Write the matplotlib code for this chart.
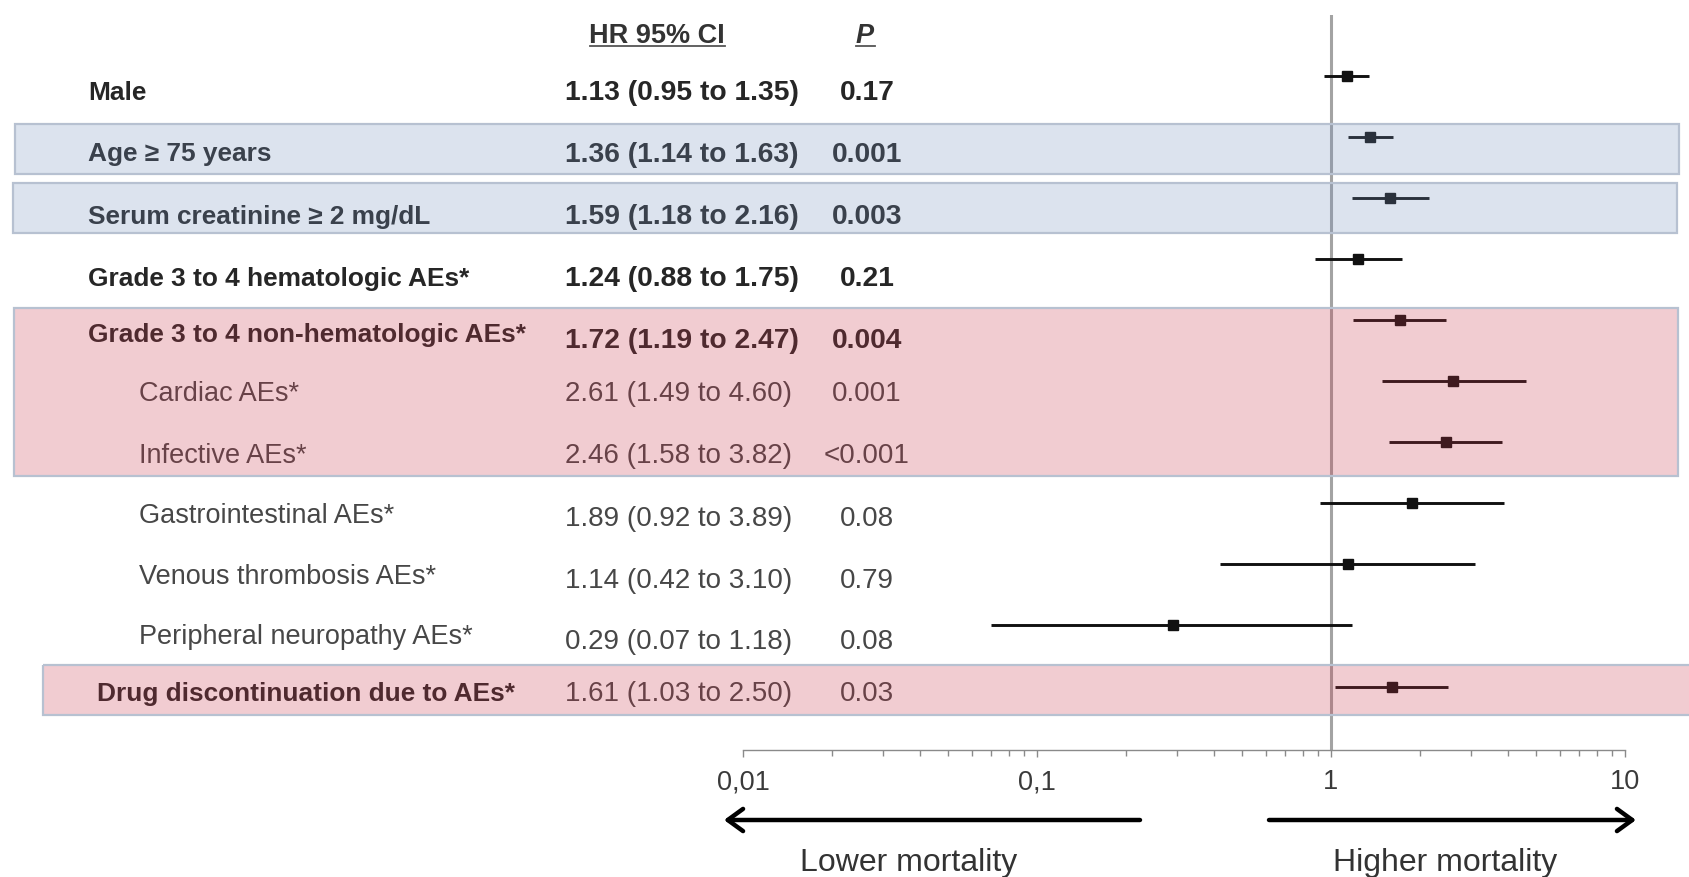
import matplotlib
matplotlib.use("Agg")
import matplotlib.pyplot as plt
from matplotlib.patches import Rectangle
from matplotlib.ticker import FixedLocator, FixedFormatter, LogLocator, NullFormatter

plt.rcParams['font.family'] = ['Liberation Sans', 'DejaVu Sans']

# ---- data ----
labels = ["Male", "Age \u2265 75 years", "Serum creatinine \u2265 2 mg/dL",
          "Grade 3 to 4 hematologic AEs*", "Grade 3 to 4 non-hematologic AEs*",
          "Cardiac AEs*", "Infective AEs*", "Gastrointestinal AEs*",
          "Venous thrombosis AEs*", "Peripheral neuropathy AEs*",
          "Drug discontinuation due to AEs*"]
hr = [1.13, 1.36, 1.59, 1.24, 1.72, 2.61, 2.46, 1.89, 1.14, 0.29, 1.61]
ci_low = [0.95, 1.14, 1.18, 0.88, 1.19, 1.49, 1.58, 0.92, 0.42, 0.07, 1.03]
ci_high = [1.35, 1.63, 2.16, 1.75, 2.47, 4.60, 3.82, 3.89, 3.10, 1.18, 2.50]
p_values = ["0.17", "0.001", "0.003", "0.21", "0.004", "0.001", "<0.001",
            "0.08", "0.79", "0.08", "0.03"]
tick_values = [0.01, 0.1, 1, 10]
tick_labels = ["0,01", "0,1", "1", "10"]

# ---- layout (pixels, top-left origin) ----
W, H = 1690, 878
label_bold = [True, True, True, True, True, False, False, False, False, False, True]
value_bold = [True, True, True, True, True, False, False, False, False, False, False]
label_x = [88, 88, 88, 88, 88, 139, 139, 139, 139, 139, 97]
label_y = [93, 154.5, 217, 279.5, 335.5, 394.5, 456.5, 516.5, 577, 637.5, 694.5]
value_y = [93, 154.5, 217, 279.5, 341.5, 394.5, 456.5, 519.5, 581.5, 642.5, 694.5]
hr_x = 565
p_x = 867
row0_px, row_step_px = 76.5, 61.1
ax_left_px, ax_right_px = 743, 1625
ax_top_px, ax_bottom_px = 16, 751

FS_LABEL_BOLD = 18.9
FS_LABEL = 19.5
FS_VALUE_BOLD = 20.3
FS_VALUE = 20.0
bold_col = '#262626'
norm_col = '#474747'

fig = plt.figure(figsize=(W / 100, H / 100), dpi=100)

# background layer for the table text
bg = fig.add_axes([0, 0, 1, 1], zorder=0)
bg.set_xlim(0, W)
bg.set_ylim(H, 0)
bg.axis('off')

# column headers with underlines
bg.text(657, 36, "HR 95% CI", ha='center', va='center', fontsize=19.5,
        fontweight='bold', color='#333333')
bg.plot([590, 725], [47, 47], color='#555555', lw=1.3)
bg.text(865, 36, "P", ha='center', va='center', fontsize=19.5,
        fontweight='bold', fontstyle='italic', color='#333333')
bg.plot([856, 875], [47, 47], color='#555555', lw=1.3)

for i, lab in enumerate(labels):
    if label_bold[i]:
        bg.text(label_x[i], label_y[i], lab, ha='left', va='center',
                fontsize=FS_LABEL_BOLD, fontweight='bold', color=bold_col)
    else:
        bg.text(label_x[i], label_y[i], lab, ha='left', va='center',
                fontsize=FS_LABEL, color=norm_col)
    if value_bold[i]:
        vkw = dict(fontsize=FS_VALUE_BOLD, fontweight='bold', color=bold_col)
    else:
        vkw = dict(fontsize=FS_VALUE, fontweight='normal', color=norm_col)
    bg.text(hr_x, value_y[i], f"{hr[i]:.2f} ({ci_low[i]:.2f} to {ci_high[i]:.2f})",
            ha='left', va='center', **vkw)
    bg.text(p_x, value_y[i], p_values[i], ha='center', va='center', **vkw)

# forest plot axes
ax = fig.add_axes([ax_left_px / W, (H - ax_bottom_px) / H,
                   (ax_right_px - ax_left_px) / W, (ax_bottom_px - ax_top_px) / H],
                  zorder=1)
ax.patch.set_alpha(0)
ax.set_xscale('log')
ax.set_xlim(0.01, 10)
y_top = (ax_top_px - row0_px) / row_step_px
y_bot = (ax_bottom_px - row0_px) / row_step_px
ax.set_ylim(y_bot, y_top)

rows = list(range(len(labels)))
ax.axvline(1, color='#a3a3a3', lw=2.2, zorder=1)
ax.hlines(rows, ci_low, ci_high, color='#111111', lw=2.1, zorder=2)
ax.plot(hr, rows, 's', color='#111111', ms=7.8, zorder=3)

for s in ['left', 'right', 'top']:
    ax.spines[s].set_visible(False)
ax.spines['bottom'].set_color('#8a8a8a')
ax.spines['bottom'].set_linewidth(1.0)
ax.yaxis.set_visible(False)
ax.xaxis.set_major_locator(FixedLocator(tick_values))
ax.xaxis.set_major_formatter(FixedFormatter(tick_labels))
ax.xaxis.set_minor_locator(LogLocator(base=10, subs=range(2, 10)))
ax.xaxis.set_minor_formatter(NullFormatter())
ax.tick_params(axis='x', which='major', length=5, width=1, color='#8a8a8a',
               labelsize=19.5, labelcolor='#3a3a3a', pad=8)
ax.tick_params(axis='x', which='minor', length=4, width=1, color='#8a8a8a')

# overlay layer: tinted highlight boxes and direction arrows
ov = fig.add_axes([0, 0, 1, 1], zorder=2)
ov.patch.set_alpha(0)
ov.set_xlim(0, W)
ov.set_ylim(H, 0)
ov.axis('off')

blue = (119 / 255, 147 / 255, 191 / 255)
pink = (203 / 255, 55 / 255, 75 / 255)
edge = '#b7c1d1'
boxes = [
    (15, 125, 1664, 50, blue),
    (13, 184, 1664, 50, blue),
    (14, 309, 1664, 168, pink),
    (43, 666, 1660, 50, pink),
]
for x0, y0, w, h, c in boxes:
    ov.add_patch(Rectangle((x0, y0), w, h, facecolor=c, alpha=0.25,
                           edgecolor='none', zorder=1))
    ov.add_patch(Rectangle((x0, y0), w, h, facecolor='none',
                           edgecolor=edge, lw=1.6, zorder=2))

arrow_kw = dict(arrowstyle='->,head_length=0.55,head_width=0.4', lw=3.2,
                color='black', shrinkA=0, shrinkB=0, mutation_scale=20)
ov.annotate('', xy=(724, 821), xytext=(1140, 821), arrowprops=arrow_kw)
ov.annotate('', xy=(1636, 821), xytext=(1269, 821), arrowprops=arrow_kw)
ov.text(909, 863, "Lower mortality", ha='center', va='center', fontsize=23,
        color='#333333')
ov.text(1445, 863, "Higher mortality", ha='center', va='center', fontsize=23,
        color='#333333')

fig.savefig("out.png", dpi=100)
